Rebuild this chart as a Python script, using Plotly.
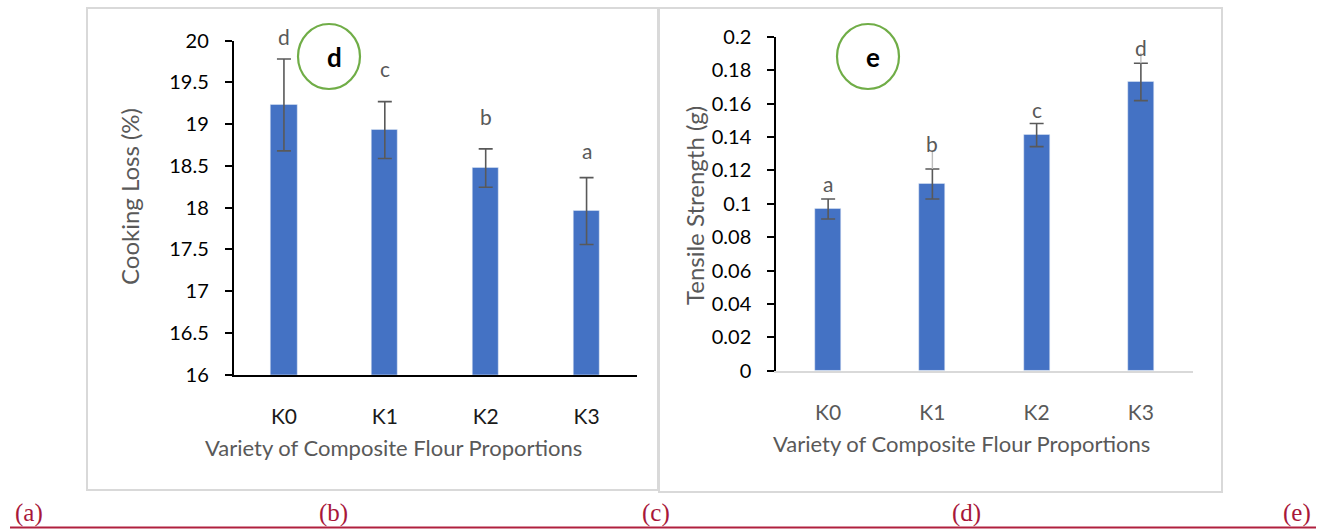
import plotly.graph_objects as go

W, H = 1319, 530

# ---------------- data ----------------
categories = ["K0", "K1", "K2", "K3"]

cooking_loss = [19.23, 18.93, 18.475, 17.96]
cooking_loss_err = [0.55, 0.34, 0.23, 0.40]
cooking_letters = ["d", "c", "b", "a"]

tensile = [0.0968, 0.1118, 0.1411, 0.1729]
tensile_err = [0.006, 0.009, 0.0069, 0.0112]
tensile_faint_err = [0.0, 0.0103, 0.0, 0.006]   # faint light-grey whisker above some caps
tensile_letters = ["a", "b", "c", "d"]

panel_tags = ["(a)", "(b)", "(c)", "(d)", "(e)"]

FONT = "Lato"
BAR = "#4472C4"
GRAY = "#595959"


def px(x):
    return x / W


def py(y):
    return 1 - y / H


fig = go.Figure()

fig.add_trace(go.Bar(
    x=categories, y=cooking_loss, width=0.26, marker_color=BAR,
    error_y=dict(type="data", array=cooking_loss_err, color=GRAY, thickness=1.6, width=7),
    xaxis="x", yaxis="y", showlegend=False))

fig.add_trace(go.Bar(
    x=categories, y=tensile, width=0.25, marker_color=BAR,
    error_y=dict(type="data", array=tensile_err, color=GRAY, thickness=1.6, width=7),
    xaxis="x2", yaxis="y2", showlegend=False))

fig.add_trace(go.Scatter(
    x=categories, y=[v + e for v, e in zip(tensile, tensile_err)], mode="markers",
    marker=dict(opacity=0, size=1),
    error_y=dict(type="data", symmetric=False, array=tensile_faint_err,
                 arrayminus=[0, 0, 0, 0], color="#BDBDBD", thickness=1.4, width=0),
    xaxis="x2", yaxis="y2", showlegend=False, hoverinfo="skip"))

tickfont = dict(family=FONT, size=20, color="#000000")

fig.update_layout(
    width=W, height=H,
    margin=dict(l=0, r=0, t=0, b=0, autoexpand=False),
    paper_bgcolor="white", plot_bgcolor="white",
    bargap=0,
    xaxis=dict(domain=[px(233.5), px(637)], range=[-0.5, 3.5], showline=True,
               linecolor="#000000", linewidth=1.5, ticks="", showgrid=False,
               tickfont=dict(family=FONT, size=21, color="#1a1a1a"),
               ticklabelstandoff=22, anchor="y", zeroline=False, automargin=False),
    yaxis=dict(domain=[py(374.7), py(40.7)], range=[16, 20], dtick=0.5,
               showline=True, linecolor="#000000", linewidth=1.5,
               ticks="outside", ticklen=7, tickcolor="#000000", tickwidth=1.5,
               showgrid=False, zeroline=False, tickfont=tickfont,
               ticklabelstandoff=12, anchor="x", automargin=False),
    xaxis2=dict(domain=[px(776), px(1193)], range=[-0.5, 3.5], showline=True,
                linecolor="#D9D9D9", linewidth=1.5, ticks="", showgrid=False,
                tickfont=dict(family=FONT, size=21, color=GRAY),
                ticklabelstandoff=22, anchor="y2", zeroline=False, automargin=False),
    yaxis2=dict(domain=[py(370.7), py(36.7)], range=[0, 0.2], dtick=0.02,
                tickformat="~g",
                showline=True, linecolor="#000000", linewidth=1.5,
                ticks="outside", ticklen=7, tickcolor="#000000", tickwidth=1.5,
                showgrid=False, zeroline=False, tickfont=tickfont,
                ticklabelstandoff=12, anchor="x2", automargin=False),
)

annotations = []
# significance letters
left_shift = [23, 33, 32, 27]
for c, v, e, t, s in zip(categories, cooking_loss, cooking_loss_err, cooking_letters, left_shift):
    annotations.append(dict(x=c, y=v + e, xref="x", yref="y", text=t, showarrow=False,
                            xanchor="center", yanchor="middle",
                            yshift=s, font=dict(family=FONT, size=21, color=GRAY)))
right_shift = [16, 25, 14, 16]
for c, v, e, t, s in zip(categories, tensile, tensile_err, tensile_letters, right_shift):
    annotations.append(dict(x=c, y=v + e, xref="x2", yref="y2", text=t, showarrow=False,
                            xanchor="center", yanchor="middle",
                            yshift=s, font=dict(family=FONT, size=21, color=GRAY)))


def paper_text(x, y, text, font, angle=0):
    return dict(x=px(x), y=py(y), xref="paper", yref="paper", text=text, textangle=angle,
                xanchor="center", yanchor="middle", showarrow=False, font=font)


annotations += [
    paper_text(393, 447, "Variety of Composite Flour Proportions", dict(family=FONT, size=22, color=GRAY)),
    paper_text(961, 443, "Variety of Composite Flour Proportions", dict(family=FONT, size=22, color=GRAY)),
    paper_text(129, 197, "Cooking Loss (%)", dict(family=FONT, size=24, color=GRAY), -90),
    paper_text(694, 206, "Tensile Strength (g)", dict(family=FONT, size=24, color=GRAY), -90),
    paper_text(334, 57, "<b>d</b>", dict(family=FONT, size=26, color="#000000")),
    paper_text(873, 57, "<b>e</b>", dict(family=FONT, size=26, color="#000000")),
]

tag_x = [28.5, 333, 656, 966, 1297]
for t, x in zip(panel_tags, tag_x):
    annotations.append(paper_text(x, 512.5, t, dict(family="Liberation Serif", size=25, color="#A8173A")))

shapes = [
    dict(type="rect", xref="paper", yref="paper", x0=px(87), x1=px(658), y0=py(490), y1=py(8),
         line=dict(color="#D9D9D9", width=2)),
    dict(type="rect", xref="paper", yref="paper", x0=px(659), x1=px(1222), y0=py(492), y1=py(8),
         line=dict(color="#D9D9D9", width=2)),
    dict(type="circle", xref="paper", yref="paper", x0=px(298), x1=px(360), y0=py(89), y1=py(24),
         line=dict(color="#70AD47", width=2.2)),
    dict(type="circle", xref="paper", yref="paper", x0=px(837), x1=px(899), y0=py(89), y1=py(24),
         line=dict(color="#70AD47", width=2.2)),
    dict(type="line", xref="paper", yref="paper", x0=px(10), x1=px(1316), y0=py(527.5), y1=py(527.5),
         line=dict(color="#B0203F", width=2)),
]

fig.update_layout(annotations=annotations, shapes=shapes)

fig.write_html("out.html")
